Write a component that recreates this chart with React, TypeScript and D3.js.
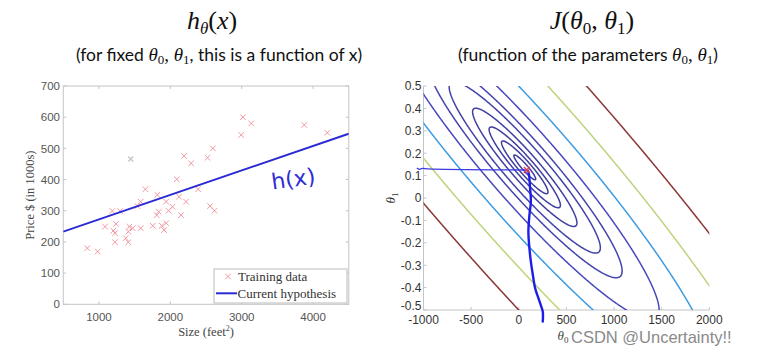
import React, { useMemo } from "react";
import * as d3 from "d3";

// ---------- data ----------
const trainingSize = [
  837, 982, 1085, 1188, 1202, 1225, 1239, 1225, 1295, 1375,
  1412, 1412, 1426, 1473, 1585, 1539, 1651, 1585, 1754, 1819,
  1810, 1838, 1880, 1913, 1941, 1941, 1974, 2030, 2090, 2123,
  2151, 2193, 2221, 2292, 2390, 2521, 2596, 2558, 2619, 2993,
  3017, 3134, 3877, 4200,
];
const trainingPrice = [
  180, 169, 249, 299, 236, 228, 258, 199, 299, 212,
  199, 233, 249, 244, 244, 315, 369, 329, 252, 351,
  286, 297, 252, 238, 260, 329, 300, 313, 401, 345,
  286, 476, 329, 452, 369, 470, 500, 315, 300, 543,
  600, 580, 575, 550,
];
const fadedSize = [1445];
const fadedPrice = [466];

const hypothesisSize = [500, 4500];
const hypothesisPrice = [233, 547];

const sizeTicks = [1000, 2000, 3000, 4000];
const priceTicks = [0, 100, 200, 300, 400, 500, 600, 700];
const theta0Ticks = [-1000, -500, 0, 500, 1000, 1500, 2000];
const theta1Ticks = [-0.5, -0.4, -0.3, -0.2, -0.1, 0, 0.1, 0.2, 0.3, 0.4, 0.5];

// points (theta0, theta1) through which each contour passes
const contourAnchorTheta0 = [125, 170, 215, 275, 360, -405, 1130, 780, 430, 0];
const contourAnchorTheta1 = [0.125, 0.125, 0.125, 0.125, 0.125, 0.5, -0.5, -0.5, -0.5, -0.5];

const minimumTheta = [85, 0.125];

const pathHorizTheta0 = [-1070, -1045, -1010, -950, 85];
const pathHorizTheta1 = [0.134, 0.128, 0.132, 0.13, 0.125];

const pathVertTheta0 = [85, 101, 119, 127, 112, 101, 112, 127, 148, 172, 206, 231, 252, 252];
const pathVertTheta1 = [0.125, 0.117, 0.043, -0.017, -0.076, -0.15, -0.225, -0.284, -0.344, -0.403, -0.447, -0.478, -0.508, -0.552];

// ---------- layout ----------
const W = 757;
const H = 354;
const L = { x0: 63.25, x1: 348.75, y0: 304.3, y1: 86 };
const R = { x0: 423.5, x1: 709.3, y0: 310, y1: 86 };

const serif = "'Liberation Serif', 'DejaVu Serif', serif";
const sans = "'Liberation Sans', Arial, sans-serif";
const calibri = "Lato, 'Open Sans', sans-serif";

function cost(t0: number, t1: number) {
  let s = 0;
  for (let i = 0; i < trainingSize.length; i++) {
    const e = t0 + t1 * trainingSize[i] - trainingPrice[i];
    s += e * e;
  }
  return s / (2 * trainingSize.length);
}

const contourColor = d3
  .scaleLinear<string>()
  .domain([0, 0.15, 0.27, 0.5, 1])
  .range(["#3e3e9e", "#4b4bc4", "#3aa8e6", "#bdd77c", "#8b3636"]);

function Cross({ x, y, r, color, w }: { x: number; y: number; r: number; color: string; w: number }) {
  return (
    <path
      d={`M${x - r},${y - r}L${x + r},${y + r}M${x - r},${y + r}L${x + r},${y - r}`}
      stroke={color}
      strokeWidth={w}
      fill="none"
    />
  );
}

export default function App() {
  const xL = d3.scaleLinear().domain([500, 4500]).range([L.x0, L.x1]);
  const yL = d3.scaleLinear().domain([0, 700]).range([L.y0, L.y1]);
  const xR = d3.scaleLinear().domain([-1000, 2000]).range([R.x0, R.x1]);
  const yR = d3.scaleLinear().domain([-0.5, 0.5]).range([R.y0, R.y1]);

  const contourPaths = useMemo(() => {
    const t0lo = -1300, t0hi = 2300, t1lo = -0.65, t1hi = 0.65;
    const nx = 361, ny = 261;
    const d0 = (t0hi - t0lo) / (nx - 1);
    const d1 = (t1hi - t1lo) / (ny - 1);
    const values = new Array(nx * ny);
    for (let j = 0; j < ny; j++) {
      for (let i = 0; i < nx; i++) {
        values[j * nx + i] = cost(t0lo + i * d0, t1lo + j * d1);
      }
    }
    const levels = contourAnchorTheta0
      .map((a, k) => cost(a, contourAnchorTheta1[k]))
      .sort((a, b) => a - b);
    const maxLevel = levels[levels.length - 1];
    const contours = d3.contours().size([nx, ny]).thresholds(levels)(values);
    const proj = d3.geoTransform({
      point: function (this: any, x: number, y: number) {
        this.stream.point(xR(t0lo + (x - 0.5) * d0), yR(t1lo + (y - 0.5) * d1));
      },
    });
    const gp = d3.geoPath(proj as any);
    return contours.map((c) => ({
      d: gp(c as any) || "",
      color: contourColor(c.value / maxLevel),
    }));
  }, []);

  const hypLine = d3
    .line<number>()
    .x((_, i) => xL(hypothesisSize[i]))
    .y((v) => yL(v))(hypothesisPrice);

  const horizPath = d3
    .line<number>()
    .x((v) => xR(v))
    .y((_, i) => yR(pathHorizTheta1[i]))
    .curve(d3.curveCatmullRom)(pathHorizTheta0);
  const vertPath = d3
    .line<number>()
    .x((v) => xR(v))
    .y((_, i) => yR(pathVertTheta1[i]))
    .curve(d3.curveCatmullRom)(pathVertTheta0);

  const axisGray = "#c4c4c4";

  return (
    <svg
      width={W}
      height={H}
      style={{ position: "absolute", left: 0, top: 0, background: "#fff" }}
      xmlns="http://www.w3.org/2000/svg"
    >
      <defs>
        <clipPath id="clipR">
          <rect x={R.x0} y={R.y1} width={R.x1 - R.x0} height={R.y0 - R.y1} />
        </clipPath>
        <clipPath id="clipL">
          <rect x={L.x0} y={L.y1} width={L.x1 - L.x0} height={L.y0 - L.y1} />
        </clipPath>
      </defs>
      <rect width={W} height={H} fill="#fff" />

      {/* ---------- titles ---------- */}
      <text x={212} y={29} textAnchor="middle" fontFamily={serif} fontSize={26} fill="#111">
        <tspan fontStyle="italic">h</tspan>
        <tspan fontStyle="italic" fontSize={17} dy={5}>θ</tspan>
        <tspan dy={-5}>(</tspan>
        <tspan fontStyle="italic">x</tspan>
        <tspan>)</tspan>
      </text>
      <text x={219} y={61} textAnchor="middle" fontFamily={calibri} fontSize={17.5} fill="#111">
        <tspan>(for fixed </tspan>
        <tspan fontFamily={serif} fontStyle="italic" fontSize={19}>θ</tspan>
        <tspan fontFamily={serif} fontSize={13} dy={3}>0</tspan>
        <tspan fontFamily={serif} fontSize={19} dy={-3}>, </tspan>
        <tspan fontFamily={serif} fontStyle="italic" fontSize={19}>θ</tspan>
        <tspan fontFamily={serif} fontSize={13} dy={3}>1</tspan>
        <tspan dy={-3}>, this is a function of x)</tspan>
      </text>

      <text x={592} y={29} textAnchor="middle" fontFamily={serif} fontSize={26} fill="#111">
        <tspan fontStyle="italic">J</tspan>
        <tspan>(</tspan>
        <tspan fontStyle="italic">θ</tspan>
        <tspan fontSize={17} dy={5}>0</tspan>
        <tspan dy={-5}>, </tspan>
        <tspan fontStyle="italic">θ</tspan>
        <tspan fontSize={17} dy={5}>1</tspan>
        <tspan dy={-5}>)</tspan>
      </text>
      <text x={588} y={61} textAnchor="middle" fontFamily={calibri} fontSize={17.5} fill="#111">
        <tspan>(function of the parameters  </tspan>
        <tspan fontFamily={serif} fontStyle="italic" fontSize={19}>θ</tspan>
        <tspan fontFamily={serif} fontSize={13} dy={3}>0</tspan>
        <tspan fontFamily={serif} fontSize={19} dy={-3}>, </tspan>
        <tspan fontFamily={serif} fontStyle="italic" fontSize={19}>θ</tspan>
        <tspan fontFamily={serif} fontSize={13} dy={3}>1</tspan>
        <tspan dy={-3}>)</tspan>
      </text>

      {/* ---------- left plot ---------- */}
      <rect x={L.x0} y={L.y1} width={L.x1 - L.x0} height={L.y0 - L.y1} fill="#fff" stroke={axisGray} strokeWidth={1} />
      {sizeTicks.map((t) => (
        <g key={"sx" + t}>
          <line x1={xL(t)} x2={xL(t)} y1={L.y0} y2={L.y0 - 3} stroke={axisGray} />
          <line x1={xL(t)} x2={xL(t)} y1={L.y1} y2={L.y1 + 3} stroke={axisGray} />
          <text x={xL(t)} y={320.5} textAnchor="middle" fontFamily={sans} fontSize={11.5} fill="#555">
            {t}
          </text>
        </g>
      ))}
      {priceTicks.map((t) => (
        <g key={"py" + t}>
          <line x1={L.x0} x2={L.x0 + 3} y1={yL(t)} y2={yL(t)} stroke={axisGray} />
          <line x1={L.x1} x2={L.x1 - 3} y1={yL(t)} y2={yL(t)} stroke={axisGray} />
          <text x={60} y={yL(t)} dy="0.36em" textAnchor="end" fontFamily={sans} fontSize={11.5} fill="#555">
            {t}
          </text>
        </g>
      ))}
      <text
        transform={`translate(34,${(L.y0 + L.y1) / 2}) rotate(-90)`}
        textAnchor="middle"
        fontFamily={serif}
        fontSize={12.5}
        fill="#444"
      >
        Price $ (in 1000s)
      </text>
      <text x={206} y={336} textAnchor="middle" fontFamily={serif} fontSize={12.5} fill="#444">
        <tspan>Size (feet</tspan>
        <tspan fontSize={8} dy={-5}>2</tspan>
        <tspan dy={5}>)</tspan>
      </text>

      <g clipPath="url(#clipL)">
        {trainingSize.map((s, i) => (
          <Cross key={"tr" + i} x={xL(s)} y={yL(trainingPrice[i])} r={2.8} color="#f08c96" w={0.9} />
        ))}
        {fadedSize.map((s, i) => (
          <Cross key={"fd" + i} x={xL(s)} y={yL(fadedPrice[i])} r={2.5} color="#c8c8c8" w={1.5} />
        ))}
        <path d={hypLine || ""} stroke="#2a2ad4" strokeWidth={2} fill="none" />
      </g>

      <text
        x={271}
        y={187}
        fontFamily="'DejaVu Sans', sans-serif"
        fontSize={22}
        fill="#2c2cd6"
        transform="rotate(-8 290 178)"
      >
        h(x)
      </text>

      {/* legend */}
      <rect x={214} y={269} width={133} height={34} fill="#fff" stroke="#bbb" strokeWidth={1} />
      <Cross x={228} y={276.5} r={2.8} color="#f08c96" w={0.9} />
      <text x={238} y={281} fontFamily={serif} fontSize={13} fill="#333">
        Training data
      </text>
      <line x1={216} x2={237} y1={293.3} y2={293.3} stroke="#2a2ad4" strokeWidth={2} />
      <text x={237.5} y={297.5} fontFamily={serif} fontSize={13} fill="#333">
        Current hypothesis
      </text>

      {/* ---------- right plot ---------- */}
      <line x1={R.x0} x2={R.x1} y1={R.y0} y2={R.y0} stroke={axisGray} />
      <line x1={R.x0} x2={R.x0} y1={R.y0} y2={R.y1} stroke={axisGray} />
      {theta0Ticks.map((t) => (
        <g key={"t0" + t}>
          <line x1={xR(t)} x2={xR(t)} y1={R.y0} y2={R.y0 - 3} stroke={axisGray} />
          <text x={xR(t)} y={324} textAnchor="middle" fontFamily={sans} fontSize={12} fill="#333">
            {t}
          </text>
        </g>
      ))}
      {theta1Ticks.map((t) => (
        <g key={"t1" + t}>
          <line x1={R.x0} x2={R.x0 + 3} y1={yR(t)} y2={yR(t)} stroke={axisGray} />
          <text
            x={421.5}
            y={yR(t) - (t === -0.5 ? 4 : 0)}
            dy="0.36em"
            textAnchor="end"
            fontFamily={sans}
            fontSize={12}
            fill="#333"
          >
            {t === 0 ? "0" : t.toFixed(1)}
          </text>
        </g>
      ))}

      <g clipPath="url(#clipR)">
        {contourPaths.map((c, i) => (
          <path key={"c" + i} d={c.d} fill="none" stroke={c.color} strokeWidth={1.5} />
        ))}
      </g>

      <path d={horizPath || ""} stroke="#3b3be2" strokeWidth={1.3} fill="none" />
      <path d={vertPath || ""} stroke="#1e1ee8" strokeWidth={2.4} fill="none" strokeLinecap="round" />
      <Cross x={xR(minimumTheta[0])} y={yR(minimumTheta[1])} r={3} color="#e8405a" w={1.5} />

      <text
        transform={`translate(395,198) rotate(-90)`}
        textAnchor="middle"
        fontFamily={serif}
        fontSize={13}
        fill="#333"
      >
        <tspan fontStyle="italic">θ</tspan>
        <tspan fontSize={9} dy={3}>1</tspan>
      </text>
      <text x={563} y={339.5} textAnchor="middle" fontFamily={serif} fontSize={13} fill="#444">
        <tspan fontStyle="italic">θ</tspan>
        <tspan fontSize={9} dy={3}>0</tspan>
      </text>
      <text x={571} y={343} fontFamily={sans} fontSize={16.5} fill="#8a8a8a">
        CSDN @Uncertainty!!
      </text>
    </svg>
  );
}
